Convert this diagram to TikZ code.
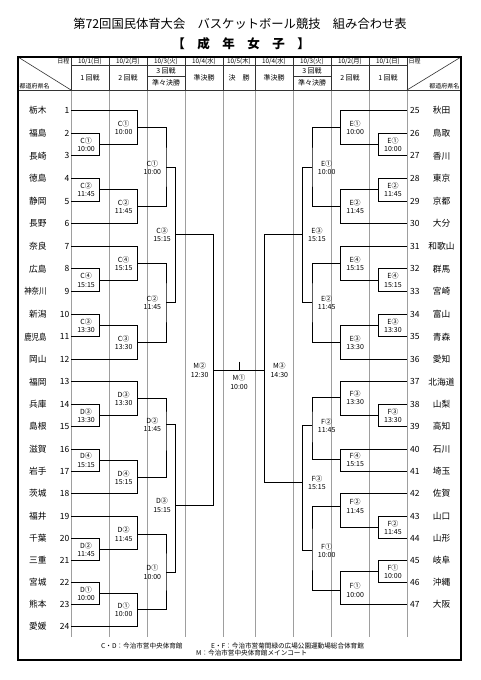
\documentclass[tikz,border=0pt]{standalone}
\usepackage{fontspec}
\setmainfont{Noto Sans CJK JP}
\tikzset{
  bline/.style={line width=0.9pt, black},
  gline/.style={line width=0.7pt, black!38},
  hline/.style={line width=0.6pt, black!80},
  outerframe/.style={line width=1.4pt, black},
  mlab/.style={font=\fontsize{7}{8.3}\selectfont, align=center, inner sep=0pt},
  tnameL/.style={font=\fontsize{8.7}{10}\selectfont, anchor=east, inner sep=0pt},
  tnameR/.style={font=\fontsize{8.7}{10}\selectfont, anchor=center, inner sep=0pt},
  tnumL/.style={font=\fontsize{8.5}{10}\selectfont, anchor=east, inner sep=0pt},
  tnumR/.style={font=\fontsize{8.5}{10}\selectfont, anchor=west, inner sep=0pt},
  hdate/.style={font=\fontsize{6.3}{7}\selectfont, inner sep=0pt},
  hround/.style={font=\fontsize{7}{8}\selectfont, inner sep=0pt},
  hsmall/.style={font=\fontsize{6}{7}\selectfont, inner sep=0pt},
  foot/.style={font=\fontsize{6.6}{7.5}\selectfont, inner sep=0pt, anchor=west},
}
\newcommand\teamL[3]{%
  \node[tnameL] (nm#1) at (46.7,#3) {#2};
  \node[tnumL] (nu#1) at (69.5,#3) {#1};
  \coordinate (t#1) at (71,#3);}
\newcommand\teamR[3]{%
  \node[tnumR] (nu#1) at (410,#3) {#1};
  \node[tnameR] (nm#1) at (441.5,#3) {#2};
  \coordinate (t#1) at (407,#3);}
\newcommand\mL[7]{%
  \coordinate (#1) at (#2,#3);
  \draw[bline] (#4) -| (#1) |- (#5);
  \node[mlab, anchor=east] (l#1) at ([xshift=-4.7pt]#1) {#6\\#7};}
\newcommand\mR[7]{%
  \coordinate (#1) at (#2,#3);
  \draw[bline] (#4) -| (#1) |- (#5);
  \node[mlab, anchor=west] (l#1) at ([xshift=5.7pt]#1) {#6\\#7};}
\begin{document}
\begin{tikzpicture}[x=1pt,y=-1pt]
\useasboundingbox (0,0) rectangle (481,680);
\fill[white] (0,0) rectangle (481,680);
% titles
\node[font=\fontsize{12.3}{14}\selectfont, inner sep=0pt] (title) at (240,23.5) {第72回国民体育大会　バスケットボール競技　組み合わせ表};
\node[font=\fontsize{12.5}{14}\bfseries, inner sep=0pt] (sub) at (241,43.5) {【　成　年　女　子　】};
% body grid lines
\foreach \gx in {71,109,147,185,223,255,293,331,369,407}
  \draw[gline] (\gx,90) -- (\gx,637);
% header lines
\foreach \gx in {71,109,147,185,223,255,293,331,369,407}
  \draw[hline] (\gx,57) -- (\gx,90);
\draw[hline] (71,65.5) -- (407,65.5);
\draw[hline] (147,76.5) -- (185,76.5);
\draw[hline] (293,76.5) -- (331,76.5);
\draw[hline] (18,90) -- (461,90);
\draw[hline] (18,57) -- (71,90);
\draw[hline] (407,90) -- (461,57);
\draw[outerframe] (18,57) rectangle (461,660);
% header texts
\node[hsmall, anchor=east] (hdl) at (69.5,61) {日程};
\node[hsmall, anchor=west] (hpl) at (19.5,86.3) {都道府県名};
\node[hsmall, anchor=west] (hdr) at (408.5,61) {日程};
\node[hsmall, anchor=east] (hpr) at (459.5,86.3) {都道府県名};
\node[hdate] (d1) at (90,61.3) {10/1(日)};
\node[hdate] (d2) at (128,61.3) {10/2(月)};
\node[hdate] (d3) at (166,61.3) {10/3(火)};
\node[hdate] (d4) at (204,61.3) {10/4(水)};
\node[hdate] (d5) at (239,61.3) {10/5(木)};
\node[hdate] (d6) at (274,61.3) {10/4(水)};
\node[hdate] (d7) at (312,61.3) {10/3(火)};
\node[hdate] (d8) at (350,61.3) {10/2(月)};
\node[hdate] (d9) at (388,61.3) {10/1(日)};
\node[hround] (r1) at (90,77.8) {1 回戦};
\node[hround] (r2) at (128,77.8) {2 回戦};
\node[hround] (r3a) at (166,71) {3 回戦};
\node[hround] (r3b) at (166,83.3) {準々決勝};
\node[hround] (r4) at (204,77.8) {準決勝};
\node[hround] (r5) at (239,77.8) {決　勝};
\node[hround] (r6) at (274,77.8) {準決勝};
\node[hround] (r7a) at (312,71) {3 回戦};
\node[hround] (r7b) at (312,83.3) {準々決勝};
\node[hround] (r8) at (350,77.8) {2 回戦};
\node[hround] (r9) at (388,77.8) {1 回戦};
% teams left
\teamL{1}{栃木}{110.7}
\teamL{2}{福島}{133.3}
\teamL{3}{長崎}{155.9}
\teamL{4}{徳島}{178.5}
\teamL{5}{静岡}{201.1}
\teamL{6}{長野}{223.7}
\teamL{7}{奈良}{246.3}
\teamL{8}{広島}{268.9}
\teamL{9}{\scalebox{0.85}[1]{神奈川}}{291.5}
\teamL{10}{新潟}{314.1}
\teamL{11}{\scalebox{0.85}[1]{鹿児島}}{336.7}
\teamL{12}{岡山}{359.3}
\teamL{13}{福岡}{381.9}
\teamL{14}{兵庫}{404.3}
\teamL{15}{島根}{426.5}
\teamL{16}{滋賀}{449}
\teamL{17}{岩手}{471.3}
\teamL{18}{茨城}{493.5}
\teamL{19}{福井}{516}
\teamL{20}{千葉}{538.5}
\teamL{21}{三重}{560.5}
\teamL{22}{宮城}{582.3}
\teamL{23}{熊本}{604.3}
\teamL{24}{愛媛}{626.5}
% teams right
\teamR{25}{秋田}{110.7}
\teamR{26}{鳥取}{133.3}
\teamR{27}{香川}{155.9}
\teamR{28}{東京}{178.5}
\teamR{29}{京都}{201.1}
\teamR{30}{大分}{223.7}
\teamR{31}{和歌山}{246.3}
\teamR{32}{群馬}{268.9}
\teamR{33}{宮崎}{291.5}
\teamR{34}{富山}{314.1}
\teamR{35}{青森}{336.7}
\teamR{36}{愛知}{359.3}
\teamR{37}{北海道}{381.9}
\teamR{38}{山梨}{404.3}
\teamR{39}{高知}{426.5}
\teamR{40}{石川}{449}
\teamR{41}{埼玉}{471.3}
\teamR{42}{佐賀}{493.5}
\teamR{43}{山口}{516}
\teamR{44}{山形}{538.5}
\teamR{45}{岐阜}{560.5}
\teamR{46}{沖縄}{582.3}
\teamR{47}{大阪}{604.3}
% left brackets
\mL{a1}{99.7}{144.6}{t2}{t3}{C①}{10:00}
\mL{b1}{137.3}{127.7}{t1}{a1}{C①}{10:00}
\mL{a2}{99.7}{189.8}{t4}{t5}{C②}{11:45}
\mL{b2}{137.3}{206.8}{a2}{t6}{C②}{11:45}
\mL{c1}{166}{167.5}{b1}{b2}{C①}{10:00}
\mL{a4}{99.7}{280.2}{t8}{t9}{C④}{15:15}
\mL{b4}{137.3}{263.3}{t7}{a4}{C④}{15:15}
\mL{a3}{99.7}{325.4}{t10}{t11}{C③}{13:30}
\mL{b3}{137.3}{342.4}{a3}{t12}{C③}{13:30}
\mL{c2}{166}{302.6}{b4}{b3}{C②}{11:45}
\mL{q1}{175.7}{234.8}{c1}{c2}{C③}{15:15}
\mL{d3a}{99.7}{415.4}{t14}{t15}{D③}{13:30}
\mL{d3b}{137.3}{398.7}{t13}{d3a}{D③}{13:30}
\mL{d4a}{99.7}{460.2}{t16}{t17}{D④}{15:15}
\mL{d4b}{137.3}{477.5}{d4a}{t18}{D④}{15:15}
\mL{dc2}{166}{424.5}{d3b}{d4b}{D②}{11:45}
\mL{d2a}{99.7}{549.5}{t20}{t21}{D②}{11:45}
\mL{d2b}{137.3}{534}{t19}{d2a}{D②}{11:45}
\mL{d1a}{99.7}{593.3}{t22}{t23}{D①}{10:00}
\mL{d1b}{137.3}{609.9}{d1a}{t24}{D①}{10:00}
\mL{dc1}{166}{572}{d2b}{d1b}{D①}{10:00}
\mL{dq}{175.7}{505}{dc2}{dc1}{D③}{15:15}
\mL{sf2}{213.3}{370}{q1}{dq}{M②}{12:30}
% right brackets
\mR{e1a}{378.3}{144.6}{t26}{t27}{E①}{10:00}
\mR{e1b}{340.5}{127.7}{t25}{e1a}{E①}{10:00}
\mR{e2a}{378.3}{189.8}{t28}{t29}{E②}{11:45}
\mR{e2b}{340.5}{206.8}{e2a}{t30}{E②}{11:45}
\mR{ec1}{312}{167.5}{e1b}{e2b}{E①}{10:00}
\mR{e4a}{378.3}{280.2}{t32}{t33}{E④}{15:15}
\mR{e4b}{340.5}{263.3}{t31}{e4a}{E④}{15:15}
\mR{e3a}{378.3}{325.4}{t34}{t35}{E③}{13:30}
\mR{e3b}{340.5}{342.4}{e3a}{t36}{E③}{13:30}
\mR{ec2}{312}{302.6}{e4b}{e3b}{E②}{11:45}
\mR{eq}{302.3}{234.8}{ec1}{ec2}{E③}{15:15}
\mR{f3a}{378.3}{415.4}{t38}{t39}{F③}{13:30}
\mR{f3b}{340.5}{397.8}{t37}{f3a}{F③}{13:30}
\mR{f4}{340.5}{459.5}{t40}{t41}{F④}{15:15}
\mR{fc2}{312}{425.5}{f3b}{f4}{F②}{11:45}
\mR{f2a}{378.3}{527.3}{t43}{t44}{F②}{11:45}
\mR{f2b}{340.5}{506}{t42}{f2a}{F②}{11:45}
\mR{f1a}{378.3}{571.4}{t45}{t46}{F①}{10:00}
\mR{f1b}{340.5}{590}{f1a}{t47}{F①}{10:00}
\mR{fc1}{312}{550.5}{f2b}{f1b}{F①}{10:00}
\mR{fq}{302.3}{482.7}{fc2}{fc1}{F③}{15:15}
\mR{sf3}{264.7}{370}{eq}{fq}{M③}{14:30}
% final
\coordinate (fintop) at (239,361.5);
\coordinate (fin) at (239,370);
\draw[bline] (sf2) -- (sf3);
\draw[bline] (fintop) -- (fin);
\node[mlab] (lfin) at (239,382) {M①\\10:00};
% footer
\node[foot] (f1) at (101,645.5) {C・D：今治市営中央体育館};
\node[foot] (f2) at (211,645.5) {E・F：今治市営菊間緑の広場公園運動場総合体育館};
\node[foot] (f3) at (196,653.3) {M：今治市営中央体育館メインコート};
\end{tikzpicture}
\end{document}
